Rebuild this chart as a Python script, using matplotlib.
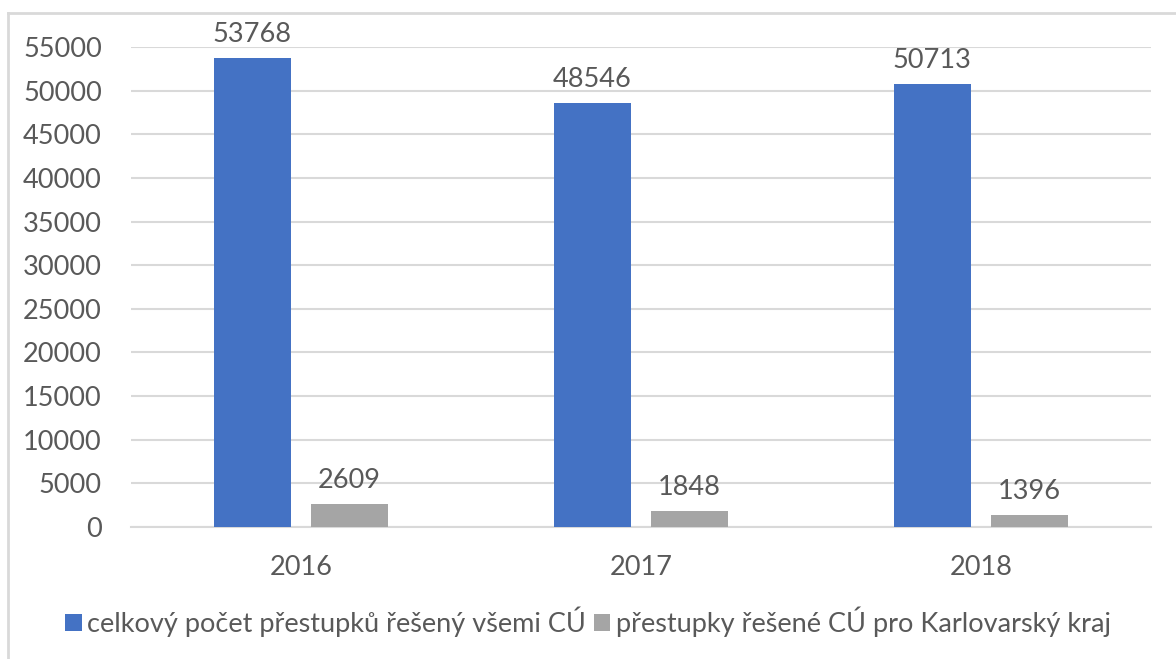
import numpy as np
import matplotlib
matplotlib.use("Agg")
import matplotlib.pyplot as plt
from matplotlib.lines import Line2D

years = ["2016", "2017", "2018"]
total_all = [53768, 48546, 50713]
karlovarsky = [2609, 1848, 1396]
series_names = ["celkový počet přestupků řešený všemi CÚ",
                "přestupky řešené CÚ pro Karlovarský kraj"]

plt.rcParams['font.family'] = ['Lato', 'DejaVu Sans']
text_color = '#595959'

dpi = 100
fig = plt.figure(figsize=(1176 / dpi, 659 / dpi), dpi=dpi)
ax = fig.add_axes([131 / 1176, 1 - 527 / 659, 1020 / 1176, 480 / 659])

x = np.arange(len(years))
width = 0.226
offset = 0.143
b1 = ax.bar(x - offset, total_all, width, color='#4472C4', label=series_names[0], zorder=3)
b2 = ax.bar(x + offset, karlovarsky, width, color='#A5A5A5', label=series_names[1], zorder=3)

for bars in (b1, b2):
    for rect in bars:
        h = rect.get_height()
        ax.annotate(f"{h:d}", (rect.get_x() + rect.get_width() / 2, h),
                    xytext=(0, 8), textcoords='offset points',
                    ha='center', va='bottom', fontsize=19.5, color=text_color)

ax.set_xlim(-0.5, 2.5)
ax.set_ylim(0, 55000)
ax.set_yticks(np.arange(0, 55001, 5000))
ax.set_xticks(x)
ax.set_xticklabels(years)
ax.tick_params(axis='both', length=0, labelsize=19.5, labelcolor=text_color)
ax.tick_params(axis='x', pad=20)
ax.tick_params(axis='y', pad=21)
ax.grid(axis='y', color='#D9D9D9', linewidth=1.5, zorder=0)
for s in ['top', 'right', 'left']:
    ax.spines[s].set_visible(False)
ax.spines['bottom'].set_color('#D9D9D9')
ax.spines['bottom'].set_linewidth(1.5)

fig.legend(handles=[b1, b2], loc='center', bbox_to_anchor=(0.5, 1 - 622 / 659),
           ncol=2, frameon=False, fontsize=19.5, labelcolor=text_color,
           handlelength=0.6, handleheight=0.6, handletextpad=0.2, columnspacing=0.3)

# chart border (top and left visible)
fig.add_artist(Line2D([8 / 1176, 8 / 1176], [0, 1 - 13 / 659], transform=fig.transFigure,
                      color='#D9D9D9', linewidth=2))
fig.add_artist(Line2D([8 / 1176, 1], [1 - 13 / 659, 1 - 13 / 659], transform=fig.transFigure,
                      color='#D9D9D9', linewidth=2))

fig.savefig("out.png", dpi=dpi)
